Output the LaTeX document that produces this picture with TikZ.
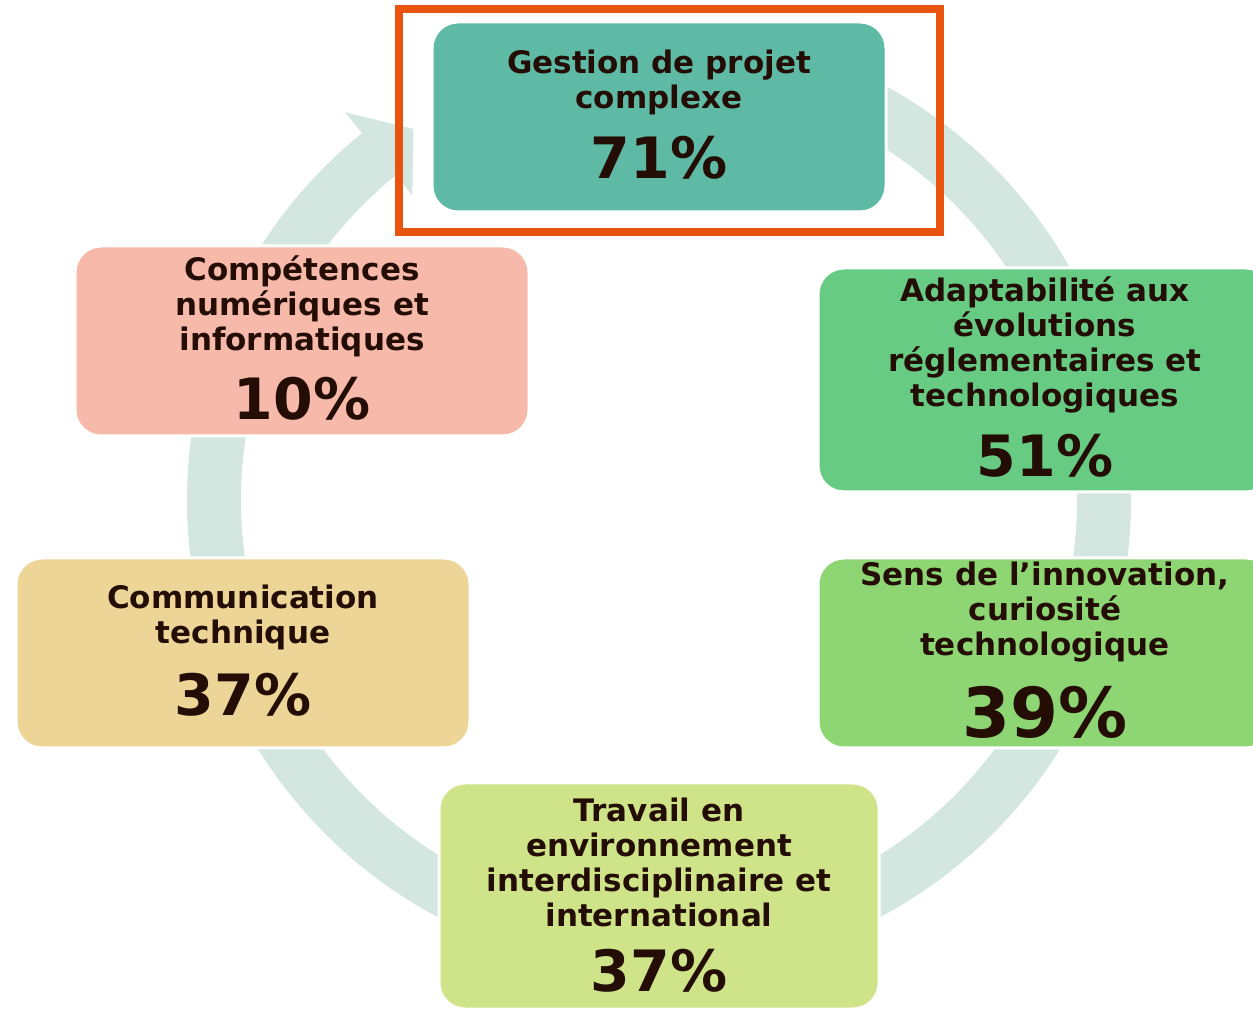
\documentclass[tikz,border=0pt]{standalone}
\usepackage{fontspec}
\setmainfont{DejaVu Sans}
\definecolor{ringc}{HTML}{D3E7E0}
\definecolor{topc}{HTML}{5EBAA5}
\definecolor{pinkc}{HTML}{F6B9AA}
\definecolor{adapc}{HTML}{67CB83}
\definecolor{sensc}{HTML}{8DD673}
\definecolor{travc}{HTML}{CFE489}
\definecolor{commc}{HTML}{EDD598}
\definecolor{redc}{HTML}{E8540F}
\definecolor{txtc}{HTML}{230D05}
\tikzset{
  box/.style={rectangle, rounded corners=26pt, draw=white, line width=3pt, inner sep=0pt, outer sep=0pt},
  ttl/.style={align=center, text=txtc, font=\fontsize{31}{35}\selectfont\bfseries, inner sep=0pt},
  pct/.style={text=txtc, font=\fontsize{57}{68}\selectfont\bfseries, inner sep=0pt},
  bigpct/.style={text=txtc, font=\fontsize{69}{80}\selectfont\bfseries, inner sep=0pt}
}
\begin{document}
\begin{tikzpicture}[x=1pt,y=1pt]
\useasboundingbox (0,0) rectangle (1253,1010);
\coordinate (C) at (659,510);
% ring with arrow head
\fill[ringc] ([shift={(129:472)}]C) arc[start angle=129, end angle=455, radius=472]
  -- ([shift={(455:418)}]C) arc[start angle=455, end angle=129, radius=418] -- cycle;
\coordinate (hb1) at ([shift={(129:499)}]C);
\coordinate (ht) at ([shift={(123.5:445)}]C);
\coordinate (hb2) at ([shift={(129:392)}]C);
\fill[ringc] (hb1) -- (ht) -- (hb2) -- cycle;
% boxes
\node[box, fill=topc, minimum width=454pt, minimum height=190pt] (top) at (659,893) {};
\node[box, fill=pinkc, minimum width=454pt, minimum height=190pt] (comp) at (302,669) {};
\node[box, fill=adapc, minimum width=454pt, minimum height=224pt] (adap) at (1045,630) {};
\node[box, fill=sensc, minimum width=454pt, minimum height=190pt] (sens) at (1045,357) {};
\node[box, fill=travc, minimum width=440pt, minimum height=226pt] (trav) at (659,114) {};
\node[box, fill=commc, minimum width=454pt, minimum height=190pt] (comm) at (243,357) {};
% texts
\node[ttl] (topt) at (659,928) {Gestion de projet\\complexe};
\node[pct] (topp) at (659,852) {71\%};
\node[ttl] (compt) at (302,703.5) {Compétences\\numériques et\\informatiques};
\node[pct] (compp) at (302,611) {10\%};
\node[ttl] (adapt) at (1045,665.5) {Adaptabilité aux\\évolutions\\réglementaires et\\technologiques};
\node[pct] (adapp) at (1045,554) {51\%};
\node[ttl] (senst) at (1045,398) {Sens de l’innovation,\\curiosité\\technologique};
\node[bigpct] (sensp) at (1045,298) {39\%};
\node[ttl] (travt) at (659,147.25) {Travail en\\environnement\\interdisciplinaire et\\international};
\node[pct] (travp) at (659,39.5) {37\%};
\node[ttl] (commt) at (243,392.5) {Communication\\technique};
\node[pct] (commp) at (243,315) {37\%};
% highlight frame
\draw[redc, line width=8pt] (399,1000.5) rectangle (939.5,777.5);
\end{tikzpicture}
\end{document}
